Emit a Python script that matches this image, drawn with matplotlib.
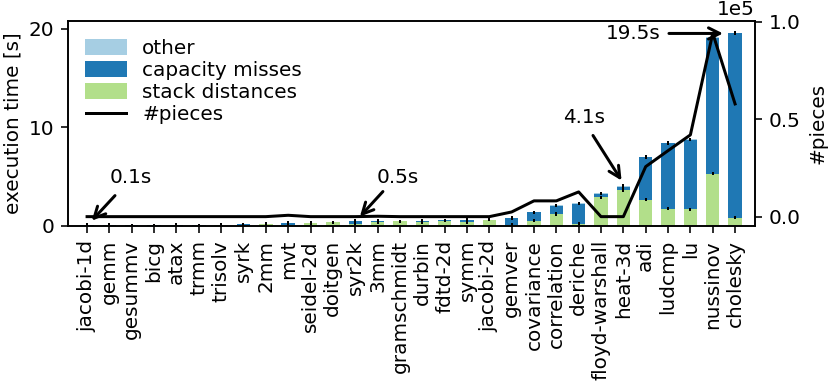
import matplotlib
matplotlib.use("Agg")
import matplotlib.pyplot as plt
import numpy as np
from matplotlib.patches import Patch

benchmarks = ["jacobi-1d", "gemm", "gesummv", "bicg", "atax", "trmm", "trisolv", "syrk",
              "2mm", "mvt", "seidel-2d", "doitgen", "syr2k", "3mm", "gramschmidt", "durbin",
              "fdtd-2d", "symm", "jacobi-2d", "gemver", "covariance", "correlation", "deriche",
              "floyd-warshall", "heat-3d", "adi", "ludcmp", "lu", "nussinov", "cholesky"]

stack_distances = [0.03, 0.03, 0.03, 0.04, 0.04, 0.04, 0.07, 0.03, 0.17, 0.05,
                   0.30, 0.36, 0.24, 0.40, 0.46, 0.40, 0.55, 0.37, 0.62, 0.12,
                   0.55, 1.22, 0.25, 2.90, 3.65, 2.67, 1.73, 1.69, 5.30, 0.82]
capacity_misses = [0.02, 0.02, 0.02, 0.02, 0.03, 0.02, 0.04, 0.13, 0.05, 0.24,
                   0.03, 0.01, 0.25, 0.10, 0.01, 0.13, 0.02, 0.22, 0.02, 0.68,
                   0.82, 0.84, 2.00, 0.35, 0.25, 4.30, 6.65, 7.05, 13.75, 18.68]
other = [0.05, 0.05, 0.03, 0.02, 0.03, 0.03, 0.03, 0.02, 0.03, 0.02,
         0.02, 0.01, 0.02, 0.04, 0.01, 0.02, 0.01, 0.02, 0.01, 0.02,
         0.02, 0.02, 0.03, 0.05, 0.20, 0.05, 0.05, 0.05, 0.05, 0.05]
pieces = [0, 0, 0, 0, 0, 0, 0, 0, 0, 700,
          0, 0, 0, 200, 0, 0, 0, 0, 0, 2400,
          8100, 8100, 12700, 0, 0, 25700, 33900, 42000, 94200, 57900]
err = 0.06

annotations = [("0.1s", (0.21, 0.54), (1.25, 3.08), (1.97, 4.9)),
               ("0.5s", (12.21, 0.95), (13.24, 3.49), (13.9, 4.9)),
               ("4.1s", (23.92, 4.6), (22.64, 9.17), (22.24, 11.0)),
               ("19.5s", (28.46, 19.5), (26.04, 19.5), (24.43, 19.54))]

c_other = "#a6cee3"
c_cap = "#1f78b4"
c_stack = "#b2df8a"

fig = plt.figure(figsize=(830 / 144, 384 / 144), dpi=144)
ax = fig.add_axes([0.0823, 0.4115, 0.9096 - 0.0823, 0.9453 - 0.4115])
x = np.arange(len(benchmarks))
s = np.array(stack_distances)
c = np.array(capacity_misses)
o = np.array(other)
w = 0.6
ax.bar(x, s, w, color=c_stack)
ax.bar(x, c, w, bottom=s, color=c_cap)
ax.bar(x, o, w, bottom=s + c, color=c_other)
for top in (s, s + c, s + c + o):
    ax.errorbar(x, top, yerr=err, fmt="none", ecolor="black", elinewidth=1, capsize=0.7, capthick=1)

ax.set_xlim(-0.84, 29.89)
ax.set_ylim(0, 20.76)
ax.set_yticks([0, 10, 20])
ax.set_xticks(x)
ax.set_xticklabels(benchmarks, rotation=90)
ax.set_ylabel("execution time [s]", labelpad=3)

for label, tip, start, tpos in annotations:
    ax.annotate("", xy=tip, xytext=start,
                arrowprops=dict(arrowstyle="->", color="black", lw=1.5, shrinkA=0, shrinkB=0,
                                mutation_scale=14))
    ax.text(tpos[0], tpos[1], label, ha="center", va="center", fontsize=10)

ax2 = ax.twinx()
line, = ax2.plot(x, pieces, color="black", lw=1.5)
ax2.set_ylim(-4800, 100500)
ax2.set_yticks([0, 50000, 100000])
ax2.ticklabel_format(axis="y", style="sci", scilimits=(0, 0))
ax2.set_ylabel("#pieces")

handles = [Patch(color=c_other), Patch(color=c_cap), Patch(color=c_stack), line]
labels = ["other", "capacity misses", "stack distances", "#pieces"]
ax2.legend(handles, labels, loc="upper left", frameon=False, labelspacing=0.15)

fig.savefig("out.png", dpi=144)
